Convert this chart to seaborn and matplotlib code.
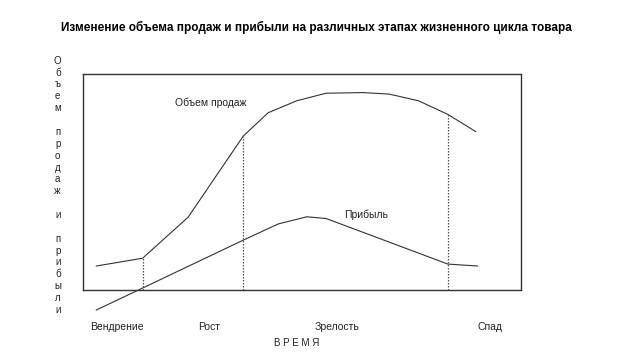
import matplotlib
matplotlib.use("Agg")
import matplotlib.pyplot as plt
import seaborn as sns
import pandas as pd

sns.set_theme(style="white")
plt.rcParams['font.family'] = ['Liberation Sans', 'DejaVu Sans']

title = "Изменение объема продаж и прибыли на различных этапах жизненного цикла товара"
stage_labels = ["Вендрение", "Рост", "Зрелость", "Спад"]
stage_pos = [7.8, 28.8, 58.1, 92.9]
xlabel = "В Р Е М Я"
ylabel = "Объем продаж и прибыли"

sales_x = [3.0, 13.6, 24.0, 36.6, 42.3, 48.8, 55.5, 63.9, 69.9, 76.6, 83.3, 89.7]
sales_y = [11.1, 14.7, 33.7, 71.3, 82.1, 87.6, 91.1, 91.4, 90.7, 87.6, 81.3, 73.3]
profit_x = [3.0, 13.6, 36.6, 44.6, 51.1, 55.5, 83.3, 90.1]
profit_y = [-9.3, 0.9, 23.1, 30.6, 33.9, 33.1, 12.0, 11.1]
boundary_idx = [1, 3, 10]

W, H = 623, 362
fig = plt.figure(figsize=(W / 100, H / 100), dpi=100)
fig.patch.set_facecolor("white")
ax = fig.add_axes([83 / W, (H - 290) / H, 438 / W, 216 / H])
ax.set_xlim(0, 100)
ax.set_ylim(0, 100)

sales = pd.DataFrame({"x": sales_x, "y": sales_y})
profit = pd.DataFrame({"x": profit_x, "y": profit_y})
sns.lineplot(data=sales, x="x", y="y", sort=False, ax=ax, color="#333333",
             linewidth=0.8, clip_on=False)
sns.lineplot(data=profit, x="x", y="y", sort=False, ax=ax, color="#333333",
             linewidth=0.8, clip_on=False)

bx = [sales_x[i] for i in boundary_idx]
by = [sales_y[i] for i in boundary_idx]
ax.vlines(bx, 0, by, colors="#555555", linestyles=(0, (1.2, 1.2)), linewidth=0.9)

for s in ax.spines.values():
    s.set_visible(True)
    s.set_color("#333333")
    s.set_linewidth(1.0)

ax.set_xticks(stage_pos)
ax.set_xticklabels(stage_labels, fontsize=7.5, color="#222222")
ax.tick_params(axis="x", length=0, pad=23)
ax.set_yticks([])
ax.set_xlabel("")
ax.set_ylabel("")

ax.text(29.2, 86.5, "Объем продаж", fontsize=7.5, color="#222222", ha="center", va="center")
ax.text(64.7, 34.7, "Прибыль", fontsize=7.5, color="#222222", ha="center", va="center")

fig.text(316 / W, 1 - 27 / H, title, fontsize=8.45, fontweight="bold", color="black",
         ha="center", va="center")
fig.text(297 / W, 1 - 343 / H, xlabel, fontsize=7, color="#222222", ha="center", va="center")

for i, ch in enumerate(ylabel):
    if ch.strip():
        fig.text(57.7 / W, 1 - (60.7 + i * 11.87) / H, ch, fontsize=7,
                 color="#222222", ha="center", va="center")

fig.savefig("out.png", dpi=100, facecolor="white")
